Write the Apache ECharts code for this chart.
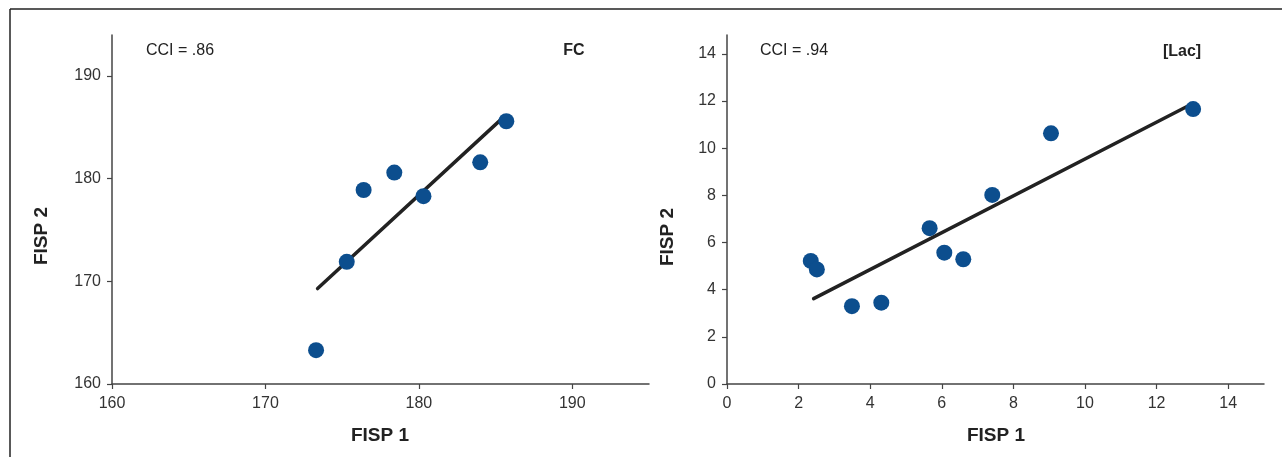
<!DOCTYPE html>
<html><head><meta charset="utf-8">
<script src="https://cdn.jsdelivr.net/npm/echarts@6/dist/echarts.min.js"></script>
<style>html,body{margin:0;padding:0;background:#fff}#c{width:1282px;height:457px}</style>
</head><body><div id="c"></div>
<script>
// Left panel: FC
const fcX = [173.3, 175.3, 176.4, 178.4, 180.3, 184.0, 185.7];
const fcY = [163.3, 171.9, 178.9, 180.6, 178.3, 181.6, 185.6];
const fcFitX = [173.4, 185.45];
const fcFitY = [169.3, 185.9];
const fcTicks = [160, 170, 180, 190];
// Right panel: [Lac]
const lacX = [2.34, 2.51, 3.49, 4.31, 5.66, 6.07, 6.60, 7.41, 9.05, 13.02];
const lacY = [5.22, 4.86, 3.30, 3.45, 6.61, 5.57, 5.29, 8.02, 10.63, 11.66];
const lacFitX = [2.42, 12.89];
const lacFitY = [3.62, 11.80];
const lacTicks = [0, 2, 4, 6, 8, 10, 12, 14];
const labels = { leftCCI: 'CCI = .86', leftTag: 'FC', rightCCI: 'CCI = .94', rightTag: '[Lac]', xName: 'FISP 1', yName: 'FISP 2' };

const zip = (a, b) => a.map((v, i) => [v, b[i]]);
const FONT = 'Liberation Sans';
const axisCol = '#444';
function axis(min, max, ticks, isY) {
  return {
    type: 'value', min: min, max: max,
    splitLine: { show: false },
    axisLine: { show: true, lineStyle: { color: axisCol, width: 1.5 } },
    axisTick: { show: true, length: 5, inside: false, customValues: ticks, lineStyle: { color: axisCol, width: 1.2 } },
    axisLabel: { customValues: ticks, color: '#333', fontSize: 16, fontFamily: FONT, margin: isY ? 11 : 12, padding: isY ? [4, 0, 0, 0] : 0 }
  };
}
const dotStyle = { color: '#0c4e8e', opacity: 1 };
const lineStyle = { color: '#222', width: 3.5, cap: 'round' };
function txt(x, y, text, size, bold, rot, align) {
  return { type: 'text', x: x, y: y, rotation: rot || 0,
    style: { text: text, fontSize: size, fontFamily: FONT, fontWeight: bold ? 'bold' : 'normal', fill: '#222', align: align || 'center', verticalAlign: 'middle' } };
}
const chart = echarts.init(document.getElementById('c'), null, { renderer: 'canvas' });
chart.setOption({
  animation: false,
  grid: [
    { left: 112, top: 35, width: 537, height: 349 },
    { left: 727, top: 35, width: 537, height: 349 }
  ],
  xAxis: [
    Object.assign(axis(160, 195, fcTicks, false), { gridIndex: 0 }),
    Object.assign(axis(0, 15, lacTicks, false), { gridIndex: 1 })
  ],
  yAxis: [
    Object.assign(axis(160, 194, fcTicks, true), { gridIndex: 0 }),
    Object.assign(axis(0, 14.8, lacTicks, true), { gridIndex: 1 })
  ],
  series: [
    { type: 'line', xAxisIndex: 0, yAxisIndex: 0, data: zip(fcFitX, fcFitY), symbol: 'none', lineStyle: lineStyle, z: 2 },
    { type: 'scatter', xAxisIndex: 0, yAxisIndex: 0, data: zip(fcX, fcY), symbolSize: 16, itemStyle: dotStyle, z: 3 },
    { type: 'line', xAxisIndex: 1, yAxisIndex: 1, data: zip(lacFitX, lacFitY), symbol: 'none', lineStyle: lineStyle, z: 2 },
    { type: 'scatter', xAxisIndex: 1, yAxisIndex: 1, data: zip(lacX, lacY), symbolSize: 16, itemStyle: dotStyle, z: 3 }
  ],
  graphic: [
    { type: 'line', shape: { x1: 10, y1: 9, x2: 1282, y2: 9 }, style: { stroke: '#222', lineWidth: 1.5 } },
    { type: 'line', shape: { x1: 10, y1: 9, x2: 10, y2: 457 }, style: { stroke: '#222', lineWidth: 1.5 } },
    txt(146, 51, labels.leftCCI, 16, false, 0, 'left'),
    txt(760, 51, labels.rightCCI, 16, false, 0, 'left'),
    txt(574, 51, labels.leftTag, 16, true),
    txt(1182, 52, labels.rightTag, 16, true),
    txt(380, 436, labels.xName, 19, true),
    txt(996, 436, labels.xName, 19, true),
    txt(42, 236, labels.yName, 19, true, Math.PI / 2),
    txt(668, 237, labels.yName, 19, true, Math.PI / 2)
  ]
});
</script></body></html>
